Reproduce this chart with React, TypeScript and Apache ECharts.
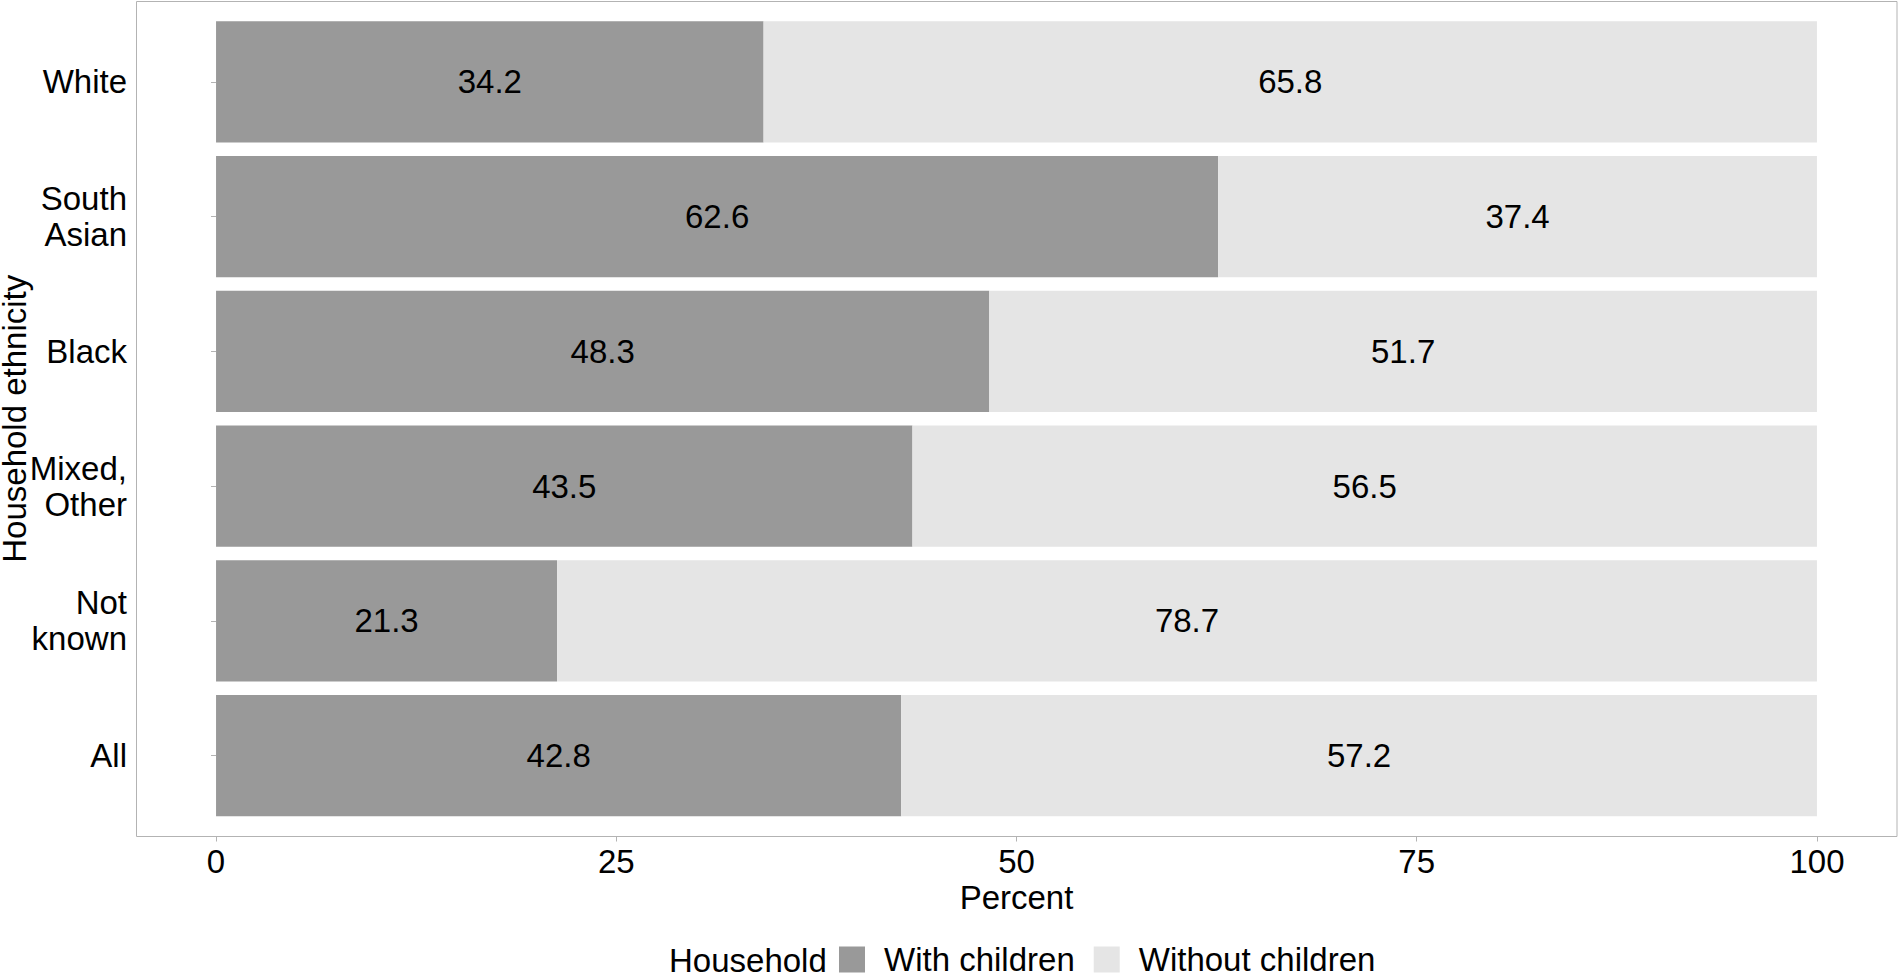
import { useEffect, useRef } from 'react';
import * as echarts from 'echarts';
import type { EChartsOption } from 'echarts';

const categories = ['White', 'South\nAsian', 'Black', 'Mixed,\nOther', 'Not\nknown', 'All'];
const withChildren = [34.2, 62.6, 48.3, 43.5, 21.3, 42.8];
const withoutChildren = [65.8, 37.4, 51.7, 56.5, 78.7, 57.2];
const xTicks = [0, 25, 50, 75, 100];

const FONT = "'Liberation Sans', Arial, sans-serif";
const FS = 33;
const BORDER = '#b3b3b3';

const App = () => {
  const chartRef = useRef<HTMLDivElement>(null);

  useEffect(() => {
    if (!chartRef.current) return;
    const chart = echarts.init(chartRef.current, undefined, { renderer: 'svg' });

    const barLabel = {
      show: true,
      position: 'inside' as const,
      color: '#000',
      fontSize: FS,
      fontFamily: FONT,
      formatter: (p: any) => p.value.toFixed(1)
    };

    const option: EChartsOption = {
      animation: false,
      textStyle: { fontFamily: FONT },
      grid: {
        left: 136,
        right: 4,
        top: 14.5,
        bottom: 150,
        outerBoundsMode: 'none'
      } as any,
      xAxis: {
        type: 'value',
        min: -5,
        max: 105,
        offset: 13.5,
        name: 'Percent',
        nameLocation: 'middle',
        nameGap: 44,
        nameMoveOverlap: false,
        nameTextStyle: { fontSize: FS, color: '#000', fontFamily: FONT },
        axisLine: { show: false },
        axisTick: {
          show: true,
          length: 5,
          lineStyle: { color: BORDER },
          customValues: xTicks
        },
        axisLabel: {
          fontSize: FS,
          color: '#000',
          margin: 8,
          customValues: xTicks
        },
        splitLine: { show: false }
      } as any,
      yAxis: {
        type: 'category',
        data: categories,
        inverse: true,
        name: 'Household ethnicity',
        nameLocation: 'middle',
        nameGap: 105,
        nameMoveOverlap: false,
        nameTextStyle: { fontSize: FS, color: '#000', fontFamily: FONT },
        axisLine: { show: false },
        axisTick: {
          show: true,
          alignWithLabel: true,
          length: 5,
          lineStyle: { color: BORDER }
        },
        axisLabel: {
          fontSize: FS,
          color: '#000',
          margin: 9,
          lineHeight: 36,
          align: 'right'
        },
        splitLine: { show: false }
      } as any,
      legend: {
        left: 839,
        top: 943,
        padding: 0,
        itemWidth: 26,
        itemHeight: 26,
        itemGap: 19,
        icon: 'rect',
        textStyle: { fontSize: FS, color: '#000', fontFamily: FONT, padding: [0, 0, 0, 14] },
        data: ['With children', 'Without children']
      },
      graphic: [
        {
          type: 'rect',
          z: -1,
          shape: { x: 136.5, y: 1.5, width: 1760.5, height: 835 },
          style: { fill: 'none', stroke: BORDER, lineWidth: 1 }
        },
        {
          type: 'text',
          left: 669,
          top: 944,
          style: { text: 'Household', fontSize: FS, fill: '#000', fontFamily: FONT }
        }
      ],
      series: [
        {
          name: 'With children',
          type: 'bar',
          stack: 'total',
          barWidth: '90%',
          data: withChildren,
          itemStyle: { color: '#999999' },
          label: barLabel
        },
        {
          name: 'Without children',
          type: 'bar',
          stack: 'total',
          barWidth: '90%',
          data: withoutChildren,
          itemStyle: { color: '#e5e5e5' },
          label: barLabel
        }
      ]
    };

    chart.setOption(option);
    return () => {
      chart.dispose();
    };
  }, []);

  return (
    <div
      ref={chartRef}
      style={{ position: 'fixed', left: 0, top: 0, width: '100vw', height: '100vh', background: '#fff' }}
    />
  );
};

export default App;
